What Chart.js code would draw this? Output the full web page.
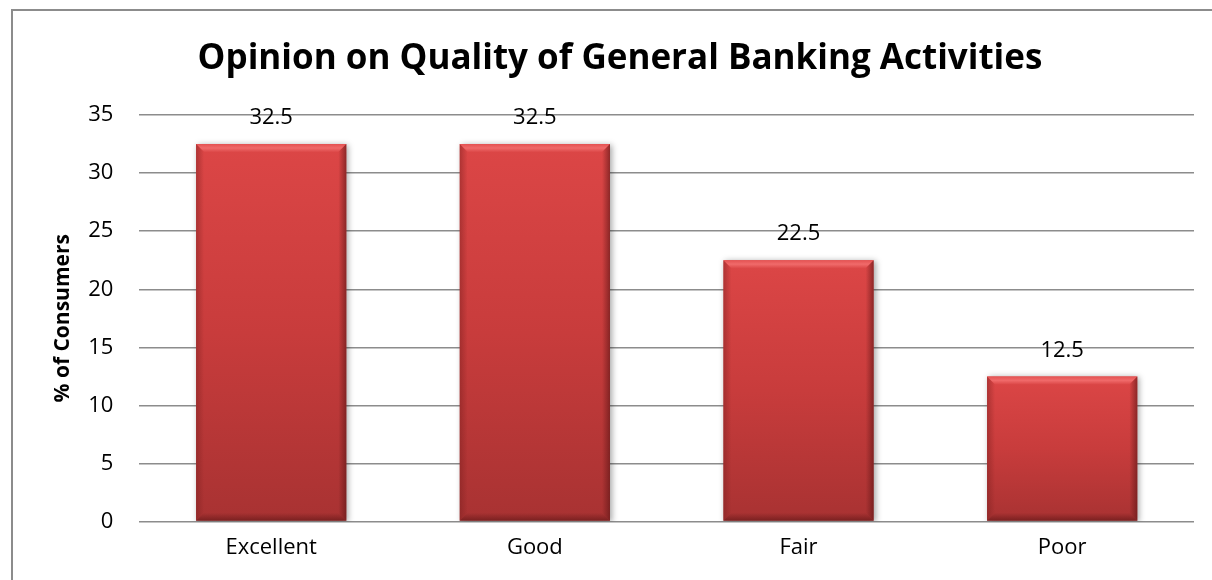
<!DOCTYPE html>
<html>
<head>
<meta charset="utf-8">
<title>Opinion on Quality of General Banking Activities</title>
<script src="https://cdn.jsdelivr.net/npm/chart.js@4.4.1/dist/chart.umd.min.js"></script>
<style>
  html, body { margin: 0; padding: 0; background: #fff; }
  #wrap { position: relative; width: 1212px; height: 580px; }
  #frame {
    position: absolute; left: 11px; top: 9px; right: 0; bottom: 0;
    border-left: 2px solid #8c8c8c; border-top: 2px solid #8c8c8c;
    pointer-events: none;
  }
  canvas { position: absolute; left: 0; top: 0; }
</style>
</head>
<body>
<div id="wrap">
  <canvas id="bankChart" width="1212" height="580"></canvas>
  <div id="frame"></div>
</div>
<script>
// survey answers and share of consumers (%)
const categories = ['Excellent', 'Good', 'Fair', 'Poor'];
const consumerPct = [32.5, 32.5, 22.5, 12.5];
const yTicks = [0, 5, 10, 15, 20, 25, 30, 35];

const FONT = "'Open Sans', 'Liberation Sans', sans-serif";

// per-bar vertical gradient, lighter at the top
function barFill(ctx) {
    const chart = ctx.chart;
    const y = chart.scales.y;
    if (!y || ctx.raw === undefined) return '#c83c3c';
    const top = y.getPixelForValue(ctx.raw);
    const bottom = y.getPixelForValue(0);
    if (!isFinite(top) || !isFinite(bottom) || top === bottom) return '#c83c3c';
    const g = chart.ctx.createLinearGradient(0, top, 0, bottom);
    g.addColorStop(0, '#dc4646');
    g.addColorStop(0.5, '#c83c3c');
    g.addColorStop(1, '#a83232');
    return g;
}

// soft shadow behind bars + bevelled edges drawn on top
const bevelBars = {
    id: 'bevelBars',
    beforeDatasetsDraw(chart) {
        const c = chart.ctx;
        c.save();
        c.shadowColor = 'rgba(0,0,0,0.35)';
        c.shadowBlur = 6;
        c.shadowOffsetX = 2;
        c.shadowOffsetY = 1;
    },
    afterDatasetsDraw(chart) {
        const c = chart.ctx;
        c.restore();
        const meta = chart.getDatasetMeta(0);
        const b = 8;
        meta.data.forEach(bar => {
            const p = bar.getProps(['x', 'y', 'base', 'width'], true);
            const l = p.x - p.width / 2, r = p.x + p.width / 2;
            const t = p.y, btm = p.base;
            // top bevel
            let g = c.createLinearGradient(0, t, 0, t + b);
            g.addColorStop(0, '#e45252');
            g.addColorStop(0.5, '#f06a6a');
            g.addColorStop(1, '#dc4848');
            c.fillStyle = g;
            c.beginPath();
            c.moveTo(l, t); c.lineTo(r, t); c.lineTo(r - b, t + b); c.lineTo(l + b, t + b);
            c.closePath(); c.fill();
            // left bevel
            g = c.createLinearGradient(l, 0, l + b, 0);
            g.addColorStop(0, 'rgba(120,30,30,0.45)');
            g.addColorStop(1, 'rgba(120,30,30,0)');
            c.fillStyle = g;
            c.beginPath();
            c.moveTo(l, t); c.lineTo(l + b, t + b); c.lineTo(l + b, btm - b); c.lineTo(l, btm);
            c.closePath(); c.fill();
            // right bevel
            g = c.createLinearGradient(r, 0, r - b, 0);
            g.addColorStop(0, 'rgba(90,20,20,0.6)');
            g.addColorStop(1, 'rgba(90,20,20,0)');
            c.fillStyle = g;
            c.beginPath();
            c.moveTo(r, t); c.lineTo(r - b, t + b); c.lineTo(r - b, btm - b); c.lineTo(r, btm);
            c.closePath(); c.fill();
            // bottom bevel
            g = c.createLinearGradient(0, btm, 0, btm - b);
            g.addColorStop(0, 'rgba(90,20,20,0.6)');
            g.addColorStop(1, 'rgba(90,20,20,0)');
            c.fillStyle = g;
            c.beginPath();
            c.moveTo(l, btm); c.lineTo(r, btm); c.lineTo(r - b, btm - b); c.lineTo(l + b, btm - b);
            c.closePath(); c.fill();
        });
    }
};

// value above each bar
const valueLabels = {
    id: 'valueLabels',
    afterDraw(chart) {
        const c = chart.ctx;
        const meta = chart.getDatasetMeta(0);
        c.save();
        c.font = '22px ' + FONT;
        c.fillStyle = '#000';
        c.textAlign = 'center';
        c.textBaseline = 'middle';
        meta.data.forEach((bar, i) => {
            c.fillText(consumerPct[i].toFixed(1), bar.x, bar.y - 26);
        });
        c.restore();
    }
};

const ctx = document.getElementById('bankChart');
new Chart(ctx, {
    type: 'bar',
    data: {
        labels: categories,
        datasets: [{
            data: consumerPct,
            backgroundColor: barFill,
            borderWidth: 0,
            categoryPercentage: 0.57,
            barPercentage: 1
        }]
    },
    options: {
        responsive: false,
        animation: false,
        layout: { padding: { left: 46, right: 18, top: 32, bottom: 14 } },
        scales: {
            x: {
                grid: { display: false },
                border: { display: false },
                ticks: { color: '#000', font: { family: FONT, size: 22 }, padding: 5 }
            },
            y: {
                min: 0,
                max: 35,
                afterBuildTicks: axis => { axis.ticks = yTicks.map(v => ({ value: v })); },
                grid: { color: '#8c8c8c', lineWidth: 1.5, drawTicks: false },
                border: { display: false },
                ticks: { color: '#000', font: { family: FONT, size: 22 }, padding: 26 },
                title: {
                    display: true,
                    text: '% of Consumers',
                    color: '#000',
                    font: { family: FONT, size: 21, weight: 'bold' },
                    padding: { top: 4, bottom: -13 }
                }
            }
        },
        plugins: {
            legend: { display: false },
            tooltip: { enabled: false },
            title: {
                display: true,
                text: 'Opinion on Quality of General Banking Activities',
                color: '#000',
                font: { family: FONT, size: 35, weight: 'bold' },
                padding: { top: 6, bottom: 35 }
            }
        }
    },
    plugins: [bevelBars, valueLabels]
});
</script>
</body>
</html>
